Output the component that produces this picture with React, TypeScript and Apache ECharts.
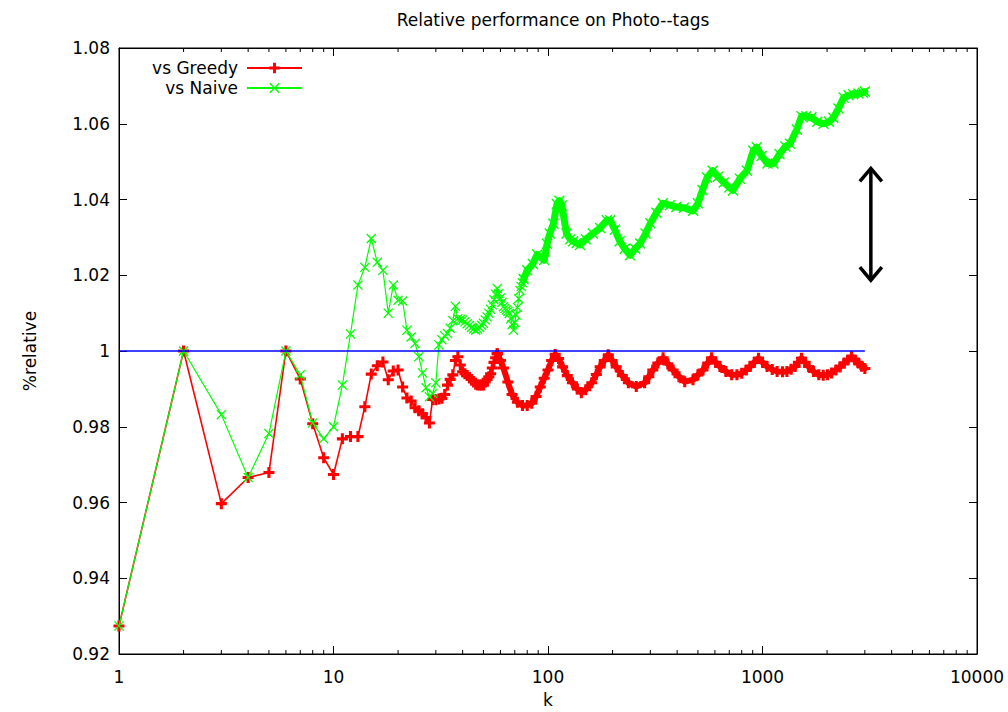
import React, { useEffect, useRef } from "react";
import * as echarts from "echarts";

const TITLE = "Relative performance on Photo--tags";
const X_NAME = "k";
const Y_NAME = "%relative";
const X_MIN = 1;
const X_MAX = 10000;
const Y_MIN = 0.92;
const Y_MAX = 1.08;
const Y_STEP = 0.02;
const DECADES = [1, 10, 100, 1000];
const MINOR_MULTIPLIERS = [2, 3, 4, 5, 6, 7, 8, 9];
const LEGEND_NAMES = ["vs Greedy", "vs Naive"];

// vs Greedy: individual markers (k = 1..58)
const greedySparse: [number, number][] = [
  [1, 0.9274], [2, 1.0], [3, 0.9597], [4, 0.9666], [5, 0.9679], [6, 1.0],
  [7, 0.9926], [8, 0.9808], [9, 0.9718], [10, 0.9674], [11, 0.9768], [12, 0.9774],
  [13, 0.9774], [14, 0.9853], [15, 0.9939], [16, 0.9961], [17, 0.9971], [18, 0.9924],
  [19, 0.9947], [20, 0.995], [21, 0.9905], [22, 0.9876], [23, 0.9868], [24, 0.985],
  [25, 0.9842], [26, 0.9834], [27, 0.9824], [28, 0.981], [29, 0.9872],
  [30, 0.9871], [31, 0.9873], [32, 0.9875], [33, 0.9885], [34, 0.991],
  [35, 0.9925], [36, 0.9937], [37, 0.9975], [38, 0.9985], [39, 0.9963], [40, 0.9945],
  [41, 0.994], [42, 0.9935], [43, 0.993], [44, 0.9925], [45, 0.9918], [46, 0.9912],
  [47, 0.991], [48, 0.991], [49, 0.991], [50, 0.991], [51, 0.9918], [52, 0.9925],
  [53, 0.9932], [54, 0.994], [55, 0.9955], [56, 0.997], [57, 0.9982], [58, 0.9993],
];

// vs Greedy: dense part (k >= 58)
const greedyDense: [number, number][] = [
  [58, 0.9993], [60, 0.9975], [62, 0.9955], [65, 0.9918],
  [68, 0.9885], [72, 0.9865], [76, 0.9856], [80, 0.9856], [84, 0.9862], [88, 0.988],
  [92, 0.9905], [96, 0.9928], [100, 0.995], [104, 0.9975], [108, 0.9991], [112, 0.998],
  [117, 0.9958], [123, 0.9935], [130, 0.9916], [137, 0.99], [143, 0.989], [150, 0.9898],
  [160, 0.9916], [168, 0.9938], [175, 0.9958], [183, 0.9975], [191, 0.999], [199, 0.9975],
  [208, 0.9958], [222, 0.9935], [237, 0.9916], [258, 0.9906], [282, 0.9916], [295, 0.9932],
  [308, 0.995], [325, 0.9968], [344, 0.9982], [362, 0.9966], [383, 0.995], [408, 0.9932],
  [434, 0.9919], [474, 0.9924], [500, 0.9937], [528, 0.995], [555, 0.9968], [579, 0.9982],
  [605, 0.997], [633, 0.9959], [675, 0.9946], [718, 0.9937], [760, 0.9937], [800, 0.9941],
  [840, 0.995], [875, 0.9959], [915, 0.997], [958, 0.9981], [1000, 0.997], [1050, 0.9959],
  [1110, 0.9951], [1170, 0.9946], [1240, 0.9945], [1300, 0.9946], [1360, 0.9952], [1420, 0.9959],
  [1470, 0.997], [1520, 0.9981], [1580, 0.997], [1640, 0.9959], [1730, 0.9946], [1830, 0.9937],
  [1920, 0.9936], [2010, 0.9937], [2100, 0.9942], [2200, 0.995], [2300, 0.9958], [2400, 0.9968],
  [2500, 0.9976], [2600, 0.9985], [2700, 0.9976], [2800, 0.9968], [2900, 0.996], [3000, 0.9954],
];

// vs Naive: individual markers (k = 1..77)
const naiveSparse: [number, number][] = [
  [1, 0.9274], [2, 1.0], [3, 0.9832], [4, 0.9666], [5, 0.9782], [6, 1.0],
  [7, 0.9937], [8, 0.981], [9, 0.9768], [10, 0.98], [11, 0.991], [12, 1.0045],
  [13, 1.0174], [14, 1.0221], [15, 1.0297], [16, 1.0234], [17, 1.0213], [18, 1.01],
  [19, 1.0174], [20, 1.0134], [21, 1.0132], [22, 1.0055], [23, 1.0037], [24, 1.002],
  [25, 0.9985], [26, 0.9942], [27, 0.9903], [28, 0.9879], [29, 0.9888], [30, 0.9916],
  [31, 1.0016], [32, 1.003], [33, 1.004], [34, 1.0046], [35, 1.006], [36, 1.008],
  [37, 1.0118], [38, 1.0085], [39, 1.0083], [40, 1.0082], [41, 1.0077], [42, 1.0072],
  [43, 1.0067], [44, 1.0062], [45, 1.0058], [46, 1.0055], [47, 1.0058], [48, 1.0062],
  [49, 1.0068], [50, 1.0073], [51, 1.0082], [52, 1.009], [53, 1.01], [54, 1.011],
  [55, 1.0122], [56, 1.0135], [57, 1.015], [58, 1.0165], [59, 1.0152], [60, 1.014],
  [61, 1.0128], [62, 1.0117], [63, 1.0112], [64, 1.0108], [65, 1.0104], [66, 1.0099],
  [67, 1.0085], [68, 1.007], [69, 1.0055], [70, 1.0075], [71, 1.0095], [72, 1.0115],
  [73, 1.0138], [74, 1.016], [75, 1.017], [76, 1.018], [77, 1.019],
];

// vs Naive: dense part (k >= 77)
const naiveDense: [number, number][] = [
  [77, 1.019], [80, 1.0213], [85, 1.023], [89, 1.0255], [92, 1.0248],
  [96, 1.024], [99, 1.0283], [102, 1.031], [106, 1.0336], [110, 1.0388], [113, 1.0397],
  [116, 1.0384], [122, 1.031], [127, 1.0295], [131, 1.029], [136, 1.0285], [141, 1.028],
  [150, 1.0295], [162, 1.031], [175, 1.0325], [188, 1.0345], [195, 1.0345], [205, 1.032],
  [216, 1.029], [228, 1.027], [241, 1.0253], [255, 1.027], [269, 1.0284], [285, 1.031],
  [300, 1.0337], [320, 1.0365], [343, 1.039], [370, 1.0385], [397, 1.038], [430, 1.0378],
  [475, 1.037], [500, 1.039], [525, 1.0425], [552, 1.0458], [586, 1.0476], [620, 1.046],
  [660, 1.0445], [701, 1.0432], [728, 1.0424], [785, 1.0455], [846, 1.0476], [906, 1.0529],
  [940, 1.0538], [990, 1.0515], [1055, 1.0495], [1125, 1.0495], [1200, 1.052], [1280, 1.054],
  [1343, 1.0547], [1445, 1.0585], [1521, 1.062], [1600, 1.062], [1690, 1.0617], [1800, 1.0605],
  [1925, 1.06], [2040, 1.0605], [2140, 1.0616], [2260, 1.064], [2390, 1.0669], [2520, 1.0675],
  [2650, 1.0678], [2800, 1.068], [2940, 1.0682], [3000, 1.0685],
];

// reference line at 1
const baseline: [number, number][] = [[1, 1], [3000, 1]];

// annotation arrow (data coordinates)
const ARROW_K = 3200;
const ARROW_TOP = 1.0482;
const ARROW_BOTTOM = 1.0187;

const FONT = "DejaVu Sans";
const RED = "#ff0000";
const GREEN = "#00ff00";
const BLUE = "#0000ff";

const PLUS = "path://M3.6,0H6.4V3.6H10V6.4H6.4V10H3.6V6.4H0V3.6H3.6Z";
const CROSS =
  "path://M0,0.9L0.9,0L5,4.1L9.1,0L10,0.9L5.9,5L10,9.1L9.1,10L5,5.9L0.9,10L0,9.1L4.1,5Z";

export default function App() {
  const ref = useRef<HTMLDivElement>(null);

  useEffect(() => {
    if (!ref.current) return;
    const chart = echarts.init(ref.current, undefined, { renderer: "svg" });

    const minorTicks: [number, number][] = [];
    DECADES.forEach((d) => MINOR_MULTIPLIERS.forEach((m) => minorTicks.push([d * m, Y_MIN])));

    const tickLabel = { fontFamily: FONT, fontSize: 17, color: "#000" };

    const option: any = {
      animation: false,
      backgroundColor: "#fff",
      title: {
        text: TITLE,
        left: 548,
        top: 6,
        textAlign: "center",
        textStyle: { fontFamily: FONT, fontSize: 17, fontWeight: "normal", color: "#000" },
      },
      legend: {
        data: LEGEND_NAMES,
        orient: "vertical",
        left: 138,
        top: 54,
        align: "right",
        itemWidth: 55,
        itemHeight: 13,
        itemGap: 2,
        selectedMode: false,
        textStyle: { fontFamily: FONT, fontSize: 17, color: "#000", width: 95, align: "right", lineHeight: 18, padding: [0, 4, 0, 0] },
      },
      grid: {
        left: 119,
        right: 31,
        top: 48,
        bottom: 58,
        show: true,
        borderColor: "#000",
        borderWidth: 1,
        containLabel: false,
        outerBoundsMode: "none",
      },
      xAxis: [
        {
          type: "log",
          logBase: 10,
          min: X_MIN,
          max: X_MAX,
          position: "bottom",
          name: X_NAME,
          nameLocation: "middle",
          nameGap: 37,
          nameTextStyle: { ...tickLabel, lineHeight: 17 },
          axisLine: { show: true, lineStyle: { color: "#000", width: 1 } },
          axisTick: { show: true, inside: true, length: 8, lineStyle: { color: "#000" } },
          axisLabel: { ...tickLabel, margin: 14, formatter: (v: number) => String(Math.round(v)) },
          splitLine: { show: false },
        },
        {
          type: "log",
          logBase: 10,
          min: X_MIN,
          max: X_MAX,
          position: "top",
          axisLine: { show: true, lineStyle: { color: "#000", width: 1 } },
          axisTick: { show: true, inside: true, length: 8, lineStyle: { color: "#000" } },
          axisLabel: { show: false },
          splitLine: { show: false },
        },
      ],
      yAxis: [
        {
          type: "value",
          min: Y_MIN,
          max: Y_MAX,
          interval: Y_STEP,
          position: "left",
          name: Y_NAME,
          nameLocation: "middle",
          nameRotate: 90,
          nameGap: 81,
          nameTextStyle: tickLabel,
          axisLine: { show: true, lineStyle: { color: "#000", width: 1 } },
          axisTick: { show: true, inside: true, length: 8, lineStyle: { color: "#000" } },
          axisLabel: {
            ...tickLabel,
            margin: 9,
            formatter: (v: number) => String(parseFloat(v.toFixed(2))),
          },
          splitLine: { show: false },
        },
        {
          type: "value",
          min: Y_MIN,
          max: Y_MAX,
          interval: Y_STEP,
          position: "right",
          axisLine: { show: true, lineStyle: { color: "#000", width: 1 } },
          axisTick: { show: true, inside: true, length: 8, lineStyle: { color: "#000" } },
          axisLabel: { show: false },
          splitLine: { show: false },
        },
      ],
      series: [
        {
          name: "minorTicks",
          type: "custom",
          data: minorTicks,
          silent: true,
          clip: false,
          z: 10,
          renderItem: (params: any, api: any) => {
            const cs = params.coordSys;
            const x = api.coord([api.value(0), Y_MIN])[0];
            const top = cs.y;
            const bottom = cs.y + cs.height;
            return {
              type: "group",
              children: [
                { type: "line", shape: { x1: x, y1: bottom, x2: x, y2: bottom - 4 }, style: { stroke: "#000", lineWidth: 1 } },
                { type: "line", shape: { x1: x, y1: top, x2: x, y2: top + 4 }, style: { stroke: "#000", lineWidth: 1 } },
              ],
            };
          },
        },
        {
          name: "vs Greedy", type: "line", data: greedySparse, symbol: PLUS, symbolSize: 11,
          symbolKeepAspect: true, showAllSymbol: true, silent: true,
          itemStyle: { color: RED, borderWidth: 0 }, lineStyle: { color: RED, width: 1.6 }, z: 3,
        },
        {
          name: "vs Greedy", type: "line", data: greedyDense, symbol: PLUS, symbolSize: 11,
          symbolKeepAspect: true, showAllSymbol: true, silent: true,
          itemStyle: { color: RED, borderWidth: 0 },
          lineStyle: { color: RED, width: 6, join: "round", cap: "round" }, z: 3,
        },
        {
          name: "vs Naive", type: "line", data: naiveSparse, symbol: CROSS, symbolSize: 10,
          symbolKeepAspect: true, showAllSymbol: true, silent: true,
          itemStyle: { color: GREEN, borderWidth: 0 }, lineStyle: { color: GREEN, width: 1.2 }, z: 4,
        },
        {
          name: "vs Naive", type: "line", data: naiveDense, symbol: CROSS, symbolSize: 11,
          symbolKeepAspect: true, showAllSymbol: true, silent: true,
          itemStyle: { color: GREEN, borderWidth: 0 },
          lineStyle: { color: GREEN, width: 7, join: "round", cap: "round" }, z: 4,
        },
        {
          name: "baseline", type: "line", data: baseline, symbol: "none", silent: true,
          lineStyle: { color: BLUE, width: 1.3 }, z: 5,
        },
      ],
    };

    chart.setOption(option);

    const top = chart.convertToPixel({ xAxisIndex: 0, yAxisIndex: 0 }, [ARROW_K, ARROW_TOP]) as number[];
    const bot = chart.convertToPixel({ xAxisIndex: 0, yAxisIndex: 0 }, [ARROW_K, ARROW_BOTTOM]) as number[];
    if (top && bot) {
      const x = top[0];
      const hw = 11;
      const hd = 13;
      const style = { stroke: "#000", lineWidth: 3.5, fill: null, lineJoin: "miter", lineCap: "butt" };
      chart.setOption({
        graphic: [
          { type: "line", shape: { x1: x, y1: top[1] + 2, x2: x, y2: bot[1] - 2 }, style },
          { type: "polyline", shape: { points: [[x - hw, top[1] + hd], [x, top[1]], [x + hw, top[1] + hd]] }, style },
          { type: "polyline", shape: { points: [[x - hw, bot[1] - hd], [x, bot[1]], [x + hw, bot[1] - hd]] }, style },
        ],
      });
    }

    return () => chart.dispose();
  }, []);

  return (
    <div
      ref={ref}
      style={{ position: "fixed", left: 0, top: 0, width: 1008, height: 712, background: "#fff" }}
    />
  );
}
